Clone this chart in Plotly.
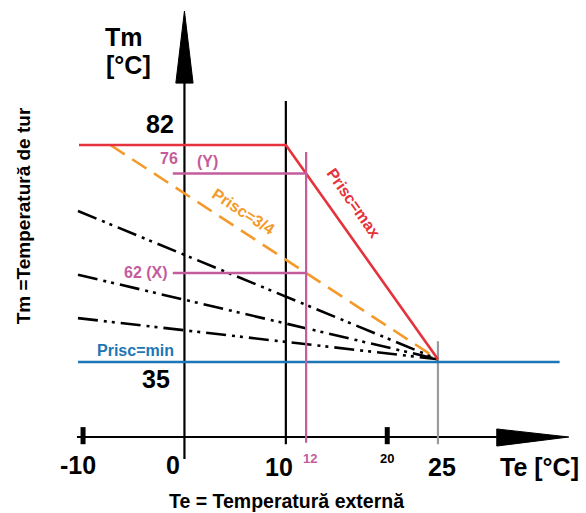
import numpy as np
import plotly.graph_objects as go

# ---- data (schematic heating curve) ----
te_ticks = [-10, 0, 10, 12, 20, 25]
tm_ticks = [82, 35]
te_design = 12          # outside temp for the example
tm_y_label = 76
tm_x_label = 62

# Prisc=max curve
max_te = [-10.4, 10, 25]
max_tm = [82, 82, 35.6]
# Prisc=3/4 curve
q34_te = [-7.3, 25]
q34_tm = [82, 35.6]
# Prisc=min
min_te = [-10.5, 37]
min_tm = [35, 35]
# intermediate curves (dash-dot), start values at Te=-10.5, converge at 25
mid_start_te = -10.5
mid_start_tm = [67.7, 53.9, 44.5]
conv_te, conv_tm = 25, 35.6

RED = "#E5323B"
ORANGE = "#F39A2B"
MAG = "#C45C9C"
BLUE = "#1D76B5"
GRAY = "#9B9B9B"
FONT = "Liberation Sans"

fig = go.Figure()

def line(x, y, color, width=2.2, dash="solid"):
    fig.add_trace(go.Scatter(x=x, y=y, mode="lines",
                             line=dict(color=color, width=width, dash=dash),
                             hoverinfo="skip", showlegend=False))

def poly(x, y, color):
    fig.add_trace(go.Scatter(x=x, y=y, mode="lines", fill="toself",
                             fillcolor=color, line=dict(color=color, width=1),
                             hoverinfo="skip", showlegend=False))

# axes (drawn)
y_axis_bottom, y_axis_top, arrow_base = 14, 111, 95.4
x_axis_level = 18.76
line([0, 0], [y_axis_bottom, arrow_base], "black", 2.2)
poly([-0.85, 0, 0.85, -0.85], [arrow_base, y_axis_top, arrow_base, arrow_base], "black")
line([-10.6, 30.8], [x_axis_level, x_axis_level], "black", 2.2)
poly([30.8, 37.9, 30.8, 30.8], [20.5, x_axis_level, 16.8, 20.5], "black")
for t in [-10, 20]:
    line([t, t], [17.2, 20.9], "black", 5)

# vertical reference lines
line([10, 10], [17.2, 91.5], "black", 2.2)
line([25, 25], [17.2, 39.5], GRAY, 2.2)

# Prisc=min
line(min_te, min_tm, BLUE, 2.6)
# intermediate curves
for s in mid_start_tm:
    line([mid_start_te, conv_te], [s, conv_tm], "black", 2.6,
         "20px,6px,3px,5px,3px,6px")
# Prisc=3/4
line(q34_te, q34_tm, ORANGE, 2.6, "17px,9px")
# Prisc=max
line(max_te, max_tm, RED, 2.6)

# example lines at Te=12
tm_y_pos = float(np.interp(te_design, max_te, max_tm))
tm_x_pos = float(np.interp(te_design, q34_te, q34_tm))
line([te_design, te_design], [17.5, 80.5], MAG, 2.2)
line([-1.15, te_design], [tm_y_pos, tm_y_pos], MAG, 2.4)
line([-1.15, te_design], [tm_x_pos, tm_x_pos], MAG, 2.4)

def txt(x, y, s, size, color="black", angle=0):
    fig.add_annotation(x=x, y=y, xref="x", yref="y", text=f"<b>{s}</b>",
                       showarrow=False, textangle=angle,
                       font=dict(family=FONT, size=size, color=color))

txt(-5.96, 105.4, "Tm", 25)
txt(-5.56, 99.3, "[°C]", 25)
txt(-2.41, 86.5, str(tm_ticks[0]), 25)
txt(-2.8, 31.3, str(tm_ticks[1]), 25)
txt(-1.52, 79.0, str(tm_y_label), 16, MAG)
txt(2.25, 78.5, "(Y)", 16, MAG)
txt(-3.79, 54.3, f"{tm_x_label} (X)", 16, MAG)
txt(-4.87, 37.6, "Prisc=min", 16, BLUE)
txt(5.8, 67.6, "Prisc=3/4", 16, ORANGE, 33)
txt(16.7, 69.3, "Prisc=max", 16, RED, 55)

big_lbl = {-10: (-10.5, 12.7), 0: (-1.1, 12.7), 10: (9.34, 12.3), 25: (25.4, 12.3)}
for t, (px, py) in big_lbl.items():
    txt(px, py, str(t), 25)
txt(12.4, 14.2, str(te_ticks[3]), 13, MAG)
txt(20.0, 14.0, str(te_ticks[4]), 13)
txt(35.0, 12.3, "Te [°C]", 25)
txt(10.1, 4.9, "Te = Temperatură externă", 19.5)
txt(-15.9, 66.6, "Tm =Temperatură de tur", 19, angle=-90)

fig.update_layout(
    width=586, height=513,
    margin=dict(l=0, r=0, t=0, b=0),
    paper_bgcolor="white", plot_bgcolor="white",
    xaxis=dict(range=[-18.19, 39.6], visible=False, fixedrange=True),
    yaxis=dict(range=[2.3, 113.4], visible=False, fixedrange=True),
    showlegend=False,
)
fig.write_html(
    "out.html",
    config={"displayModeBar": False},
    post_script="document.body.style.margin='0';document.body.style.overflow='hidden';",
)
